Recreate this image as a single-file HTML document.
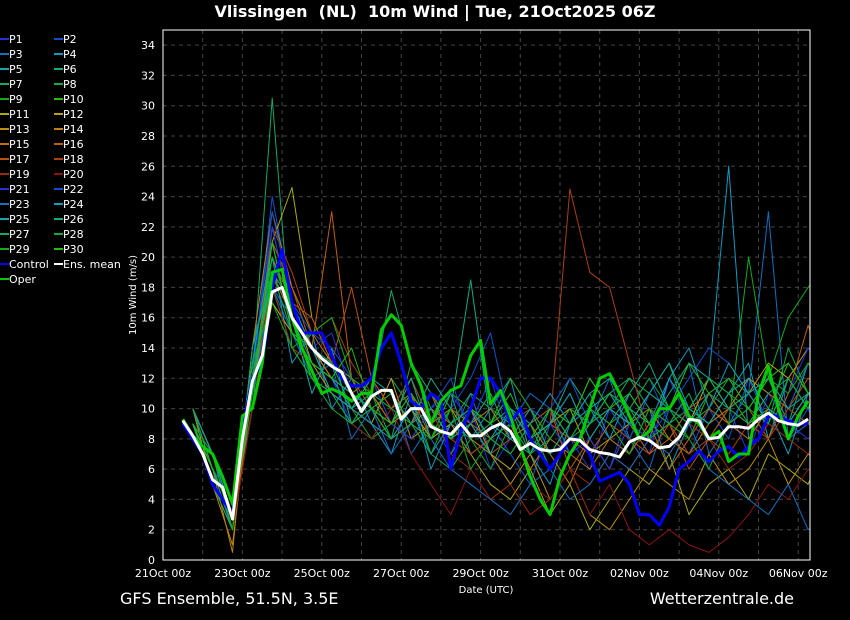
<!DOCTYPE html>
<html><head><meta charset="utf-8"><style>
html,body{margin:0;padding:0;background:#000;}
svg{display:block;font-family:"DejaVu Sans","Liberation Sans",sans-serif;}
</style></head><body>
<svg id="c" width="850" height="620" xmlns="http://www.w3.org/2000/svg">
<defs><clipPath id="plotclip"><rect x="163" y="30" width="647" height="530"/></clipPath></defs>
<rect width="850" height="620" fill="#000"/>
<text x="435" y="17" fill="#fff" font-size="16" font-weight="bold" text-anchor="middle" style="white-space:pre">Vlissingen  (NL)  10m Wind | Tue, 21Oct2025 06Z</text>
<text x="120" y="604" fill="#fff" font-size="16">GFS Ensemble, 51.5N, 3.5E</text>
<text x="794" y="604" fill="#fff" font-size="16" text-anchor="end">Wetterzentrale.de</text>
<text x="486" y="593" fill="#fff" font-size="10" text-anchor="middle">Date (UTC)</text>
<text transform="translate(136,295) rotate(-90)" fill="#fff" font-size="10" text-anchor="middle">10m Wind (m/s)</text>
<g id="grid"></g><g id="ticks"></g><g id="members" clip-path="url(#plotclip)"></g><g id="mains" clip-path="url(#plotclip)"></g><g id="legend"></g>
<rect x="163" y="30" width="647" height="530" fill="none" stroke="#fff" stroke-width="1"/>
</svg>
<script>
const xTickLabels=["21Oct 00z","23Oct 00z","25Oct 00z","27Oct 00z","29Oct 00z","31Oct 00z","02Nov 00z","04Nov 00z","06Nov 00z"];
const yTicks=[0,2,4,6,8,10,12,14,16,18,20,22,24,26,28,30,32,34];
const meanVals=[9.2,8.2,7,5.3,4.8,2.7,8,11.8,13.5,17.7,18,16,15,14,13.3,12.8,12.4,11,9.8,10.8,11.2,11.2,9.3,10,10,8.8,8.5,8.3,9,8.2,8.2,8.7,9,8.5,7.3,7.7,7.3,7.2,7.3,8,7.9,7.3,7.1,7,6.8,7.8,8.1,7.9,7.4,7.5,8.1,9.3,9.2,8,8.1,8.8,8.8,8.7,9.3,9.7,9.2,9,8.9,9.3];
const controlVals=[9,8,7,5,4,3,8.5,12,13,18,20.5,17,15,15,15,13.5,12,11.5,11.5,12,14,15,13,10.5,10,11,10.5,6,8.5,10,12,12,11,9,10,8,7,6,7,8,8,7,5.2,5.5,5.8,5,3,3,2.3,3.5,6,6.5,7.2,6.5,7.2,7.5,6.8,7.5,8,9.5,9.5,9.2,9,9];
const operVals=[9.3,8.2,7.5,7,5.5,3.7,9.5,10,13,19,19.2,16,14,12.5,11,11.3,11,10.5,11,11,15.2,16.2,15.5,13,11.5,9,10.5,11.2,11.5,13.5,14.5,10.3,11.2,9.5,7.5,5.5,4,3,5.5,7,8,10,12,12.3,11,9.5,8,8.5,10,10,11,9.5,9,8,8.5,6.5,7,7,11,12.8,10,8,9.5,10.5];
const members=[
[9,5,3,13,19,16,13,12,9,11,8,10,9,7,10,6,8,9,7,8,6,10,9,7,12,9,8,10,7,11,9,8,9],
[10,6,4,12,24,17,14,11,10,12,9,8,10,12,8,9,7,5,9,11,8,6,10,12,9,7,10,8,12,9,8,10,7],
[9,7,3,11,18,15,12,13,8,10,11,7,9,8,11,7,6,8,10,7,9,12,8,6,10,13,7,9,11,23,8,9,10],
[9,6,2,14,20,13,15,10,12,9,7,11,6,9,8,10,12,7,5,9,11,8,7,10,6,9,12,26,8,10,7,11,9],
[10,5,3,10,22,16,11,14,9,8,10,12,9,11,7,8,10,9,6,8,10,11,9,8,12,10,9,11,13,8,12,10,11],
[9,6,4,13,17,15,14,12,11,10,8,9,12,10,9,11,8,7,9,12,10,9,11,13,10,8,11,9,10,12,9,13,12],
[10,7,2,12,30.5,14,13,11,10,9,12,10,8,9,11,10,9,6,8,10,9,11,12,10,9,11,8,10,12,11,10,9,11],
[9,6,3,11,19,16,12,10,9,11,8,13,10,7,9,12,10,8,7,9,12,10,8,11,13,9,10,12,11,9,14,11,10],
[9,5,2,13,21,15,13,12,10,8,9,11,7,10,8,6,9,11,10,8,7,9,10,12,10,8,11,9,20,12,16,18,19.5],
[10,6,3,12,18,14,12,11,9,10,11,9,8,11,10,9,12,10,8,7,9,11,10,9,8,10,12,11,9,10,13,11,12],
[10,7,3,11,21,24.6,16,13,12,11,9,10,8,9,7,5,4,6,3,5,2,4,6,5,7,3,5,6,4,7,6,5,8],
[9,6,2,10,17,15,14,12,11,10,8,9,11,8,10,7,6,8,9,10,7,8,9,11,10,9,12,10,11,13,12,14,13],
[10,5,1,12,20,17,13,11,10,9,12,8,9,10,8,7,5,7,4,6,3,2,4,6,5,4,7,5,6,8,5,7,6],
[9,6,0.5,14,23,18,15,13,11,12,10,11,9,8,9,10,8,9,7,5,8,6,9,10,8,7,9,10,12,11,10,13,12],
[10,7,2,11,19,16,14,12,10,11,9,8,10,9,7,8,9,6,8,7,6,8,7,9,6,8,10,9,8,10,9,11,10],
[10,6,3,13,21,18,14,23,12,10,9,11,8,10,9,8,7,9,10,6,8,10,9,7,8,10,11,9,10,8,11,15.5,12],
[9,5,2,12,20,17,16,13,18,12,10,9,11,8,9,7,8,10,9,8,7,9,8,7,9,6,8,10,9,11,10,12,11],
[9,6,3,11,22,19,15,16,13,11,10,12,9,8,7,8,9,10,9,24.5,19,18,13,8,9,7,8,7,9,8,10,9,8],
[10,7,3,12,18,14,13,12,10,9,8,9,10,7,6,4,5,3,4,6,5,7,6,8,7,9,8,6,7,9,8,7,9],
[9,6,2,10,19,15,14,11,9,8,10,7,5,3,6,4,3,5,4,6,3,5,2,1,2,1,0.5,1.5,3,5,4,6,5],
[9,7,3,13,22,16,14,15,11,10,9,8,10,11,9,12,8,10,9,7,8,6,9,8,10,9,11,12,10,12,11,14,12],
[10,6,4,12,23,17,15,14,12,11,10,9,8,10,12,15,9,11,10,12,9,10,8,11,10,12,14,13,11,12,10,13,12],
[9,5,3,11,18,16,14,13,11,10,7,9,8,6,5,4,3,5,6,4,5,7,6,8,7,9,6,5,4,3,5,2,3],
[9,6,2,13,21,15,13,12,10,9,8,10,7,9,10,8,7,9,11,9,10,8,11,9,12,14,10,13,11,9,12,10,13],
[10,7,3,12,19,17,14,11,10,12,11,9,10,8,9,7,10,8,9,11,8,10,9,11,13,10,9,11,12,10,9,11,10],
[9,6,3,11,20,16,13,12,11,10,9,12,8,10,18.5,9,8,10,7,9,11,12,10,9,11,13,12,10,11,12,10,11,10],
[9,5,2,14,19,15,14,13,10,11,17.8,13,11,9,10,8,9,7,10,8,9,10,12,11,10,9,11,10,9,11,12,10,11],
[10,6,3,12,20,16,12,11,9,10,8,9,7,6,8,9,10,7,8,10,9,11,10,8,9,10,12,11,10,9,12,10,14],
[9,7,2,13,17,14,15,16,12,11,10,9,8,10,6,8,7,9,6,8,10,9,7,10,9,8,6,9,10,12,11,13,11],
[9,6,3,11,21,15,13,12,14,10,9,11,9,8,10,9,11,8,10,9,12,10,11,9,10,13,11,12,10,12,13,11,12]
];
const memberColors=["#2233dd","#1150cc","#1170c0","#1199c0","#11aaaa","#11aa88","#11aa66","#11aa44","#11aa22","#22bb11","#aaaa11","#bba011","#bb9011","#bb8011","#bb7011","#bb6011","#bb5011","#aa4011","#992a11","#881515"];
const NS="http://www.w3.org/2000/svg";
const X0=163,X1=810,Y0=560,Y1=30,DAY=39.7;
function xs(d){return X0+d*DAY;}
function ys(v){return Y0-v*(Y0-Y1)/35;}
function mk(tag,attrs,parent){const e=document.createElementNS(NS,tag);for(const k in attrs)e.setAttribute(k,attrs[k]);parent.appendChild(e);return e;}
const grid=document.getElementById('grid'),ticks=document.getElementById('ticks');
for(let d=1;d<=16;d++){
  const l=mk('line',{x1:xs(d),x2:xs(d),y1:Y1,y2:Y0,stroke:'#444','stroke-dasharray':'4,4'},grid);
  
  
}
yTicks.forEach(v=>{
  if(v>0){const l=mk('line',{x1:X0,x2:X1,y1:ys(v),y2:ys(v),stroke:'#444','stroke-dasharray':'4,4'},grid);
  
  }
  const t=mk('text',{x:155,y:ys(v)+4,fill:'#fff','font-size':'11','text-anchor':'end'},ticks);
  t.textContent=v;
  
  
});
xTickLabels.forEach((s,i)=>{
  const t=mk('text',{x:xs(i*2),y:577,fill:'#fff','font-size':'11','text-anchor':'middle'},ticks);
  t.textContent=s;
  
  
});
function path(vals,step,start,color,w,parent,name){
  const pts=vals.map((v,i)=>xs(start+i*step).toFixed(1)+','+ys(v).toFixed(1)).join(' ');
  const p=mk('polyline',{points:pts,fill:'none',stroke:color,'stroke-width':w,'stroke-linejoin':'round'},parent);
  
  
}
const mg=document.getElementById('members'),mn=document.getElementById('mains');
members.forEach((m,i)=>path(m,0.5,0.75,memberColors[i<20?i:i-20],1,mg,'member-line-p'+(i+1)));
path(controlVals,0.25,0.5,'#0000ff',3,mn,'control-line');
path(operVals,0.25,0.5,'#00cc00',3,mn,'oper-line');
path(meanVals,0.25,0.5,'#ffffff',3,mn,'ens-mean-line');
const lg=document.getElementById('legend');
const legendNames=[];for(let i=1;i<=30;i++)legendNames.push('P'+i);
legendNames.push('Control','Ens. mean','Oper');
const legendColors=memberColors.concat(memberColors.slice(0,10)).concat(['#0000ff','#ffffff','#00cc00']);
legendNames.forEach((n,i)=>{
  const col=i%2,row=Math.floor(i/2),x=col?54:0,y=39+row*15;
  mk('line',{x1:x,x2:x+9,y1:y,y2:y,stroke:legendColors[i],'stroke-width':2},lg);
  const t=mk('text',{x:x+9,y:y+4,fill:'#fff','font-size':'11'},lg);
  t.textContent=n;
  
  
});
</script>
</body></html>
